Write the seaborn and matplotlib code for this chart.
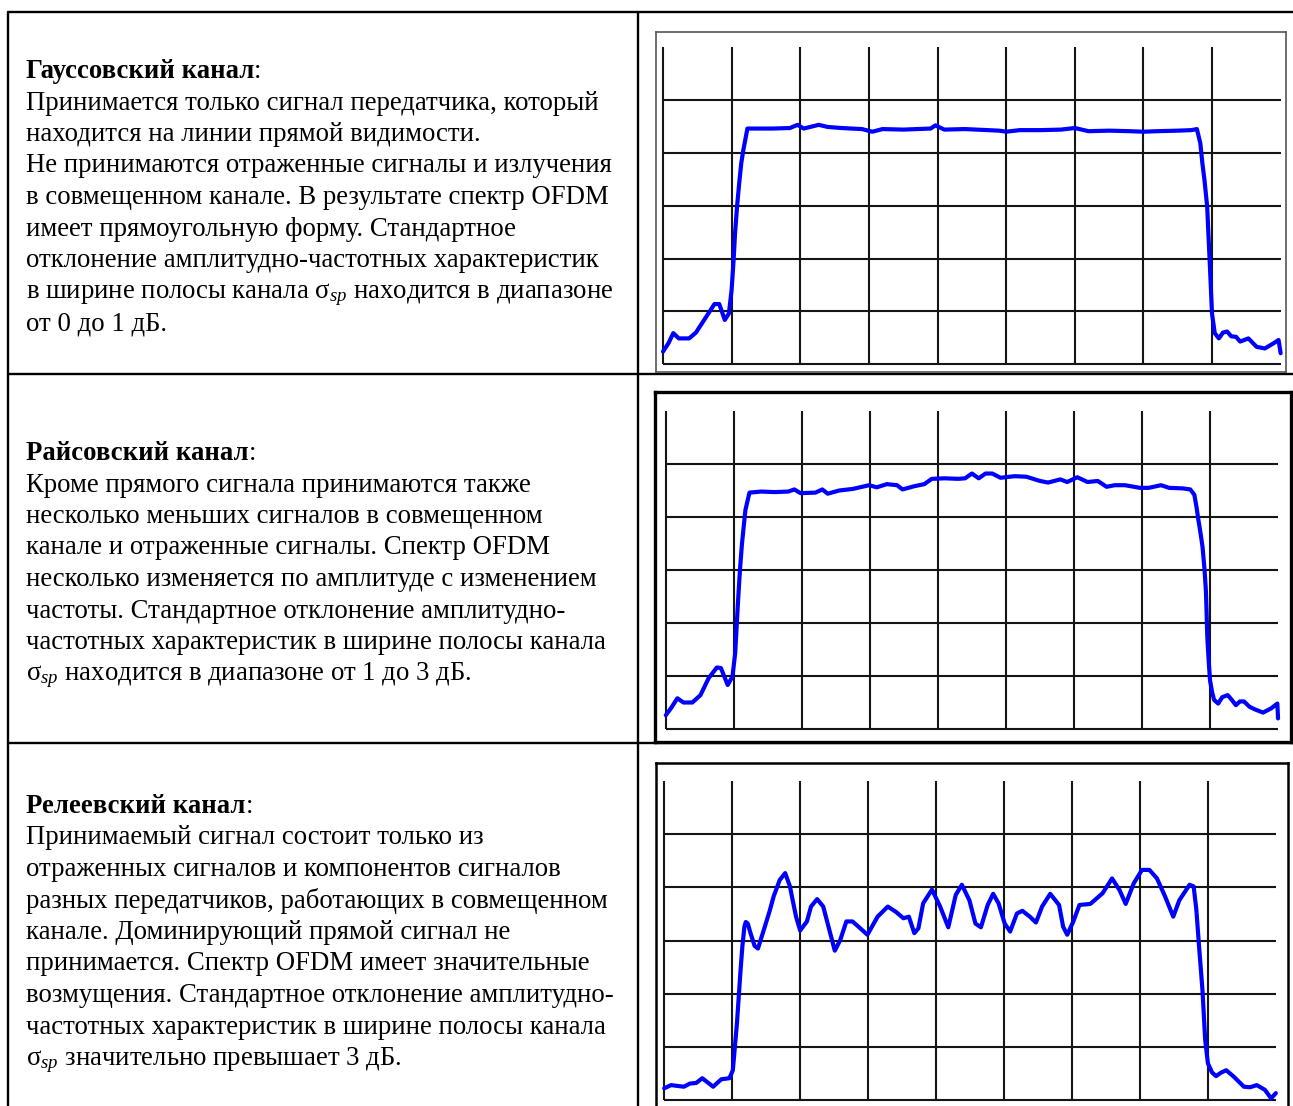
import matplotlib
matplotlib.use('Agg')
import matplotlib.pyplot as plt
import seaborn as sns

# spectra, in grid divisions (x 0..9, y 0..6)
gauss = [(0, 0.24), (0.08, 0.40), (0.15, 0.59), (0.23, 0.49), (0.38, 0.49), (0.48, 0.60),
         (0.57, 0.78), (0.68, 1.00), (0.75, 1.14), (0.82, 1.14), (0.90, 0.84), (0.96, 0.96),
         (1.00, 1.41), (1.03, 2.00), (1.05, 2.48), (1.08, 3.00), (1.11, 3.42), (1.14, 3.80),
         (1.17, 4.05), (1.23, 4.46), (1.40, 4.46), (1.60, 4.46), (1.85, 4.47), (1.96, 4.53),
         (2.05, 4.46), (2.27, 4.53), (2.40, 4.49), (2.60, 4.47), (2.90, 4.45), (3.05, 4.40),
         (3.20, 4.45), (3.50, 4.44), (3.90, 4.46), (3.97, 4.52), (4.10, 4.44), (4.40, 4.45),
         (4.90, 4.42), (5.00, 4.40), (5.20, 4.43), (5.50, 4.43), (5.80, 4.44), (6.00, 4.47),
         (6.20, 4.41), (6.50, 4.42), (6.80, 4.41), (7.00, 4.40), (7.20, 4.41), (7.50, 4.42),
         (7.70, 4.43), (7.78, 4.45), (7.83, 4.18), (7.86, 3.80), (7.89, 3.49), (7.93, 2.98),
         (7.95, 2.40), (7.97, 1.85), (8.00, 0.96), (8.04, 0.59), (8.10, 0.49), (8.16, 0.60),
         (8.22, 0.62), (8.28, 0.53), (8.35, 0.52), (8.41, 0.43), (8.53, 0.49), (8.65, 0.33),
         (8.77, 0.30), (8.90, 0.40), (8.97, 0.46), (9.00, 0.21)]

rice = [(0, 0.26), (0.08, 0.40), (0.17, 0.58), (0.26, 0.50), (0.39, 0.50), (0.51, 0.64),
        (0.63, 0.96), (0.75, 1.16), (0.81, 1.15), (0.91, 0.83), (0.98, 0.99), (1.02, 1.43),
        (1.04, 1.90), (1.06, 2.37), (1.09, 3.00), (1.12, 3.50), (1.17, 4.13), (1.23, 4.46),
        (1.40, 4.48), (1.60, 4.47), (1.80, 4.48), (1.89, 4.52), (1.98, 4.45), (2.20, 4.46),
        (2.30, 4.52), (2.38, 4.44), (2.55, 4.50), (2.75, 4.53), (2.99, 4.60), (3.10, 4.56),
        (3.25, 4.62), (3.40, 4.60), (3.48, 4.52), (3.65, 4.58), (3.80, 4.62), (3.91, 4.72),
        (4.10, 4.73), (4.30, 4.72), (4.40, 4.73), (4.50, 4.82), (4.60, 4.73), (4.70, 4.82),
        (4.80, 4.82), (4.92, 4.74), (5.13, 4.77), (5.30, 4.76), (5.50, 4.68), (5.62, 4.65),
        (5.80, 4.71), (5.90, 4.66), (6.05, 4.75), (6.20, 4.66), (6.35, 4.68), (6.48, 4.57),
        (6.60, 4.60), (6.75, 4.60), (6.97, 4.55), (7.10, 4.55), (7.28, 4.60), (7.40, 4.55),
        (7.60, 4.54), (7.71, 4.52), (7.77, 4.42), (7.80, 4.20), (7.83, 3.94), (7.86, 3.70),
        (7.89, 3.44), (7.92, 3.00), (7.94, 2.60), (7.95, 2.20), (7.96, 1.74), (7.98, 1.30),
        (8.00, 0.92), (8.03, 0.70), (8.06, 0.55), (8.12, 0.48), (8.18, 0.60), (8.26, 0.64),
        (8.32, 0.55), (8.38, 0.45), (8.44, 0.52), (8.50, 0.52), (8.58, 0.42), (8.66, 0.37),
        (8.78, 0.31), (8.90, 0.39), (8.99, 0.48), (9.00, 0.20)]

rayleigh = [(0, 0.22), (0.10, 0.28), (0.29, 0.25), (0.38, 0.31), (0.47, 0.32), (0.56, 0.41),
            (0.64, 0.33), (0.72, 0.25), (0.84, 0.39), (0.96, 0.41), (1.01, 0.56), (1.04, 1.00),
            (1.07, 1.44), (1.10, 2.00), (1.12, 2.38), (1.15, 2.89), (1.18, 3.26), (1.20, 3.35),
            (1.23, 3.32), (1.27, 3.14), (1.33, 2.90), (1.38, 2.85), (1.48, 3.26), (1.55, 3.55),
            (1.61, 3.83), (1.70, 4.14), (1.78, 4.27), (1.85, 4.02), (1.90, 3.70), (1.94, 3.45),
            (2.00, 3.19), (2.10, 3.36), (2.16, 3.64), (2.25, 3.78), (2.34, 3.64), (2.43, 3.20),
            (2.51, 2.81), (2.59, 3.01), (2.68, 3.36), (2.77, 3.36), (2.86, 3.26), (2.99, 3.11),
            (3.14, 3.45), (3.29, 3.64), (3.41, 3.54), (3.52, 3.42), (3.60, 3.45), (3.68, 3.14),
            (3.74, 3.23), (3.81, 3.70), (3.94, 3.96), (4.06, 3.64), (4.18, 3.25), (4.29, 3.86),
            (4.38, 4.05), (4.49, 3.76), (4.58, 3.32), (4.66, 3.25), (4.76, 3.67), (4.84, 3.88),
            (4.92, 3.70), (5.01, 3.32), (5.09, 3.17), (5.19, 3.51), (5.27, 3.56), (5.38, 3.45),
            (5.47, 3.34), (5.56, 3.64), (5.68, 3.88), (5.81, 3.67), (5.87, 3.26), (5.93, 3.11),
            (6.02, 3.36), (6.11, 3.67), (6.27, 3.69), (6.45, 3.89), (6.59, 4.17), (6.70, 3.95),
            (6.79, 3.69), (6.91, 4.08), (7.03, 4.33), (7.14, 4.33), (7.25, 4.17), (7.37, 3.83),
            (7.49, 3.45), (7.58, 3.76), (7.73, 4.05), (7.79, 4.02), (7.83, 3.58), (7.87, 2.89),
            (7.92, 2.07), (7.96, 1.13), (8.00, 0.69), (8.06, 0.52), (8.12, 0.45), (8.20, 0.52),
            (8.27, 0.56), (8.38, 0.44), (8.53, 0.25), (8.62, 0.24), (8.72, 0.28), (8.84, 0.19),
            (8.93, 0.03), (9.00, 0.13)]

titles = ['Гауссовский канал', 'Райсовский канал', 'Релеевский канал']

gauss_text = ['Принимается только сигнал передатчика, который',
              'находится на линии прямой видимости.',
              'Не принимаются отраженные сигналы и излучения',
              'в совмещенном канале. В результате спектр OFDM',
              'имеет прямоугольную форму. Стандартное',
              'отклонение амплитудно-частотных характеристик',
              'в ширине полосы канала σ$_{sp}$ находится в диапазоне',
              'от 0 до 1 дБ.']
rice_text = ['Кроме прямого сигнала принимаются также',
             'несколько меньших сигналов в совмещенном',
             'канале и отраженные сигналы. Спектр OFDM',
             'несколько изменяется по амплитуде с изменением',
             'частоты. Стандартное отклонение амплитудно-',
             'частотных характеристик в ширине полосы канала',
             'σ$_{sp}$ находится в диапазоне от 1 до 3 дБ.']
rayleigh_text = ['Принимаемый сигнал состоит только из',
                 'отраженных сигналов и компонентов сигналов',
                 'разных передатчиков, работающих в совмещенном',
                 'канале. Доминирующий прямой сигнал не',
                 'принимается. Спектр OFDM имеет значительные',
                 'возмущения. Стандартное отклонение амплитудно-',
                 'частотных характеристик в ширине полосы канала',
                 'σ$_{sp}$ значительно превышает 3 дБ.']

sns.set_style('white')
plt.rcParams['font.family'] = ['Liberation Serif', 'DejaVu Serif']
plt.rcParams['text.color'] = 'black'
plt.rcParams['mathtext.fontset'] = 'custom'
plt.rcParams['mathtext.rm'] = 'Liberation Serif'
plt.rcParams['mathtext.it'] = 'Liberation Serif:italic'

W, H = 1293, 1106
fig = plt.figure(figsize=(W / 100, H / 100), dpi=100)

# table (pixel coordinates)
bg = fig.add_axes([0, 0, 1, 1])
bg.set_xlim(0, W)
bg.set_ylim(H, 0)
bg.axis('off')
lw_tab = 1.7
bg.plot([8, W], [12, 12], color='k', lw=lw_tab)
bg.plot([8, W], [374, 374], color='k', lw=lw_tab)
bg.plot([8, W], [743, 743], color='k', lw=lw_tab)
bg.plot([8, 8], [12, H], color='k', lw=lw_tab)
bg.plot([638, 638], [12, H], color='k', lw=lw_tab)

fs = 19.3
step = 31.5
for title, lines, y0 in zip(titles, [gauss_text, rice_text, rayleigh_text], [78, 460, 813]):
    t = bg.text(26, y0, title, fontsize=fs, fontweight='bold', va='baseline', ha='left')
    bg.annotate(':', xy=(1, 0), xycoords=t, fontsize=fs, va='bottom', ha='left')
    for i, line in enumerate(lines):
        bg.text(26, y0 + step * (i + 1), line, fontsize=fs, va='baseline', ha='left')

# spectrum panels: frame box (px), grid x0/x8/y0/y5 (px), frame colour and width
panels = [
    (gauss, (656, 32, 1286, 372), (663, 1212, 364.3, 100), '#555555', 1.2, True),
    (rice, (655, 392, 1291, 742), (665.8, 1210, 729, 464), 'black', 2.4, True),
    (rayleigh, (656, 763, 1288, 1110), (664.2, 1207.9, 1100, 834.3), 'black', 1.8, False),
]

for data, frame, grid, ec, lw, bottom in panels:
    l, t, r, b = frame
    ax = fig.add_axes([l / W, 1 - b / H, (r - l) / W, (b - t) / H])
    gx0, gx8, gy0, gy5 = grid
    sx = (gx8 - gx0) / 8
    sy = (gy0 - gy5) / 5
    ax.set_xlim((l - gx0) / sx, (r - gx0) / sx)
    ax.set_ylim((gy0 - b) / sy, (gy0 - t) / sy)
    ax.vlines(range(9), 0, 6, color='#151515', lw=1.5)
    ax.hlines(range(6), 0, 9, color='#151515', lw=1.5)
    xs = [p[0] for p in data]
    ys = [p[1] for p in data]
    sns.lineplot(x=xs, y=ys, ax=ax, color='#0000ff', linewidth=3.0,
                 sort=False, estimator=None)
    ax.set_xticks([])
    ax.set_yticks([])
    ax.set_xlabel('')
    ax.set_ylabel('')
    for name, s in ax.spines.items():
        s.set_visible(True)
        s.set_color(ec)
        s.set_linewidth(lw)
    if not bottom:
        ax.spines['bottom'].set_visible(False)

fig.savefig('out.png', dpi=100)
